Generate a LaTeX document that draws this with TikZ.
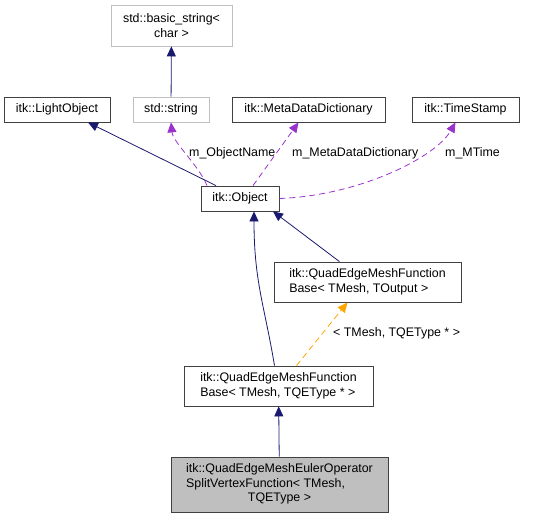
\documentclass[tikz,border=0pt]{standalone}
\usepackage{fontspec}
\setmainfont{Liberation Sans}
\usetikzlibrary{arrows.meta}
\definecolor{navyedge}{HTML}{191970}
\definecolor{useedge}{HTML}{9A32CD}
\definecolor{tmpledge}{HTML}{FFA500}
\begin{document}
\begin{tikzpicture}[x=1pt,y=-1pt,>={Triangle[length=10pt,width=9pt]},
    box/.style={draw=black!75,fill=white,line width=0.8pt,inner sep=0pt,minimum height=25pt,align=left,font=\fontsize{12.4}{14.5}\selectfont},
    extbox/.style={box,draw=black!25},
    inherit/.style={->,navyedge,line width=0.8pt},
    usage/.style={->,useedge,dashed,dash pattern=on 6pt off 4pt,line width=0.8pt},
    tmpl/.style={->,tmpledge,dashed,dash pattern=on 6pt off 4pt,line width=0.8pt},
    lbl/.style={font=\fontsize{12.4}{14}\selectfont,text=black,inner sep=0pt,anchor=west}]
    \useasboundingbox (0,0) rectangle (549,517);
    \node[extbox,minimum width=121pt,minimum height=41pt,align=center] (basic) at (171.5,25.5) {std::basic\_string<\\char >};
    \node[extbox,minimum width=76pt] (str) at (171,109.5) {std::string};
    \node[box,minimum width=106pt] (light) at (57,109.5) {itk::LightObject};
    \node[box,minimum width=153pt] (meta) at (308.5,109.5) {itk::MetaDataDictionary};
    \node[box,minimum width=107pt] (stamp) at (465.5,109.5) {itk::TimeStamp};
    \node[box,minimum width=78pt] (object) at (240,198.5) {itk::Object};
    \node[box,minimum width=187pt,minimum height=40pt] (fbout) at (367.5,282) {itk::QuadEdgeMeshFunction\\Base< TMesh, TOutput >};
    \node[box,minimum width=189pt,minimum height=40pt] (fbqe) at (278.5,386) {itk::QuadEdgeMeshFunction\\Base< TMesh, TQEType * >};
    \node[box,fill=black!25,minimum width=217pt,minimum height=55pt] (split) at (279.5,484.5)
        {\begin{tabular}{@{}l@{}}itk::QuadEdgeMeshEulerOperator\\SplitVertexFunction< TMesh,\\\multicolumn{1}{@{}c@{}}{TQEType >}\end{tabular}};
    % member labels
    \node[lbl] (objname) at (189,153) {m\_ObjectName};
    \node[lbl] (dictname) at (292,153) {m\_MetaDataDictionary};
    \node[lbl] (mtime) at (445,153) {m\_MTime};
    \node[lbl] (targs) at (333,333) {< TMesh, TQEType * >};
    \draw[inherit] (str) -- (basic);
    \draw[inherit] ([xshift=-24pt]object.north) -- ([xshift=31pt]light.south);
    \draw[usage] ([xshift=-33pt]object.north) .. controls +(-8,-20) and +(2,20) .. (str.south);
    \draw[usage] ([xshift=13pt]object.north) -- ([xshift=-10pt]meta.south);
    \draw[usage] (object.east) .. controls +(80,-3) and +(-20,35) .. ([xshift=-10pt]stamp.south);
    \draw[inherit] ([xshift=-4pt]fbqe.north) .. controls +(-10,-60) and +(0,70) .. ([xshift=14pt]object.south);
    \draw[inherit] ([xshift=-28pt]fbout.north) -- ([xshift=33pt]object.south);
    \draw[tmpl] ([xshift=18pt]fbqe.north) -- ([xshift=-20pt]fbout.south);
    \draw[inherit] (split) -- (fbqe);
\end{tikzpicture}
\end{document}
